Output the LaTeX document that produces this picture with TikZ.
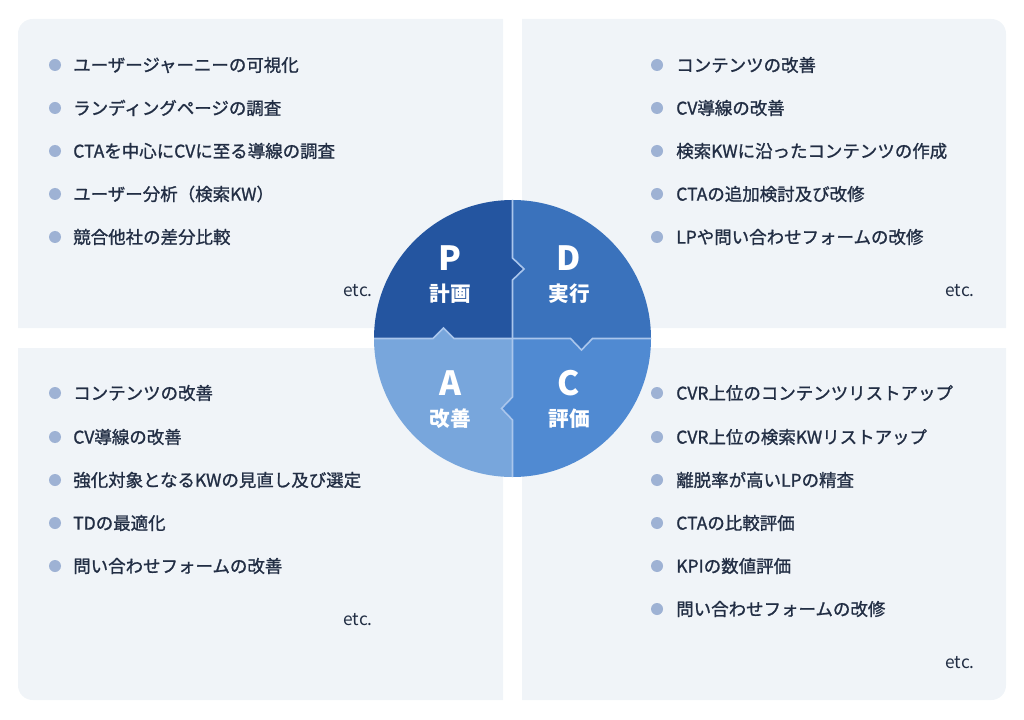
\documentclass[tikz,border=0pt]{standalone}
\usepackage{fontspec}
\setmainfont{Noto Sans CJK JP}
\newfontfamily\listfont{Noto Sans CJK JP}[FakeBold=1.2]
\usepackage{tikz}

\definecolor{panelbg}{RGB}{240,244,248}
\definecolor{navytext}{RGB}{34,46,68}
\definecolor{dotblue}{RGB}{158,178,212}
\definecolor{planblue}{RGB}{36,85,160}
\definecolor{doblue}{RGB}{58,114,188}
\definecolor{checkblue}{RGB}{80,138,210}
\definecolor{actblue}{RGB}{120,166,220}
\definecolor{seamblue}{RGB}{170,198,236}

\tikzset{
  listitem/.style={anchor=west, inner sep=0pt, text=navytext, font=\listfont\fontsize{13.1}{15}\selectfont},
  dotmark/.style={circle, fill=dotblue, inner sep=0pt, minimum size=9pt},
  etcnote/.style={anchor=east, inner sep=0pt, text=navytext, font=\fontsize{13}{15}\selectfont},
  bigletter/.style={text=white, inner sep=0pt, font=\bfseries\fontsize{25}{28}\selectfont},
  phaselabel/.style={text=white, inner sep=0pt, font=\bfseries\fontsize{15.5}{18}\selectfont},
  seam/.style={draw=seamblue, line width=1.2pt}
}

\begin{document}
\begin{tikzpicture}[x=0.75pt,y=0.75pt,yscale=-1,xscale=1]
    \useasboundingbox (0,0) rectangle (1024,720);

    %Shape: Panels
    \fill[panelbg] (18,328) [rounded corners=11pt] -- (18,19) [sharp corners] -- (503,19) -- (503,328) -- cycle;
    \fill[panelbg] (522,328) -- (522,19) [rounded corners=11pt] -- (1006,19) [sharp corners] -- (1006,328) -- cycle;
    \fill[panelbg] (503,348) -- (18,348) [rounded corners=11pt] -- (18,700) [sharp corners] -- (503,700) -- cycle;
    \fill[panelbg] (522,348) -- (1006,348) [rounded corners=11pt] -- (1006,700) [sharp corners] -- (522,700) -- cycle;

    %Shape: Quadrants
    \fill[planblue] (512.5,338.5) -- (512.5,280) -- (524,269) -- (512.5,258) -- (512.5,200) arc (270:180:138.5) -- (433,338.5) -- (443.5,328) -- (454,338.5) -- cycle;
    \fill[doblue] (512.5,338.5) -- (512.5,280) -- (524,269) -- (512.5,258) -- (512.5,200) arc (270:360:138.5) -- (592.5,338.5) -- (581.5,350) -- (570.5,338.5) -- cycle;
    \fill[checkblue] (512.5,338.5) -- (570.5,338.5) -- (581.5,350) -- (592.5,338.5) -- (651,338.5) arc (0:90:138.5) -- (512.5,420) -- (501.5,408.5) -- (512.5,397) -- cycle;
    \fill[actblue] (512.5,338.5) -- (512.5,397) -- (501.5,408.5) -- (512.5,420) -- (512.5,477) arc (90:180:138.5) -- (433,338.5) -- (443.5,328) -- (454,338.5) -- cycle;
    %Straight Lines: seams
    \draw[seam] (512.5,200) -- (512.5,258) -- (524,269) -- (512.5,280) -- (512.5,397) -- (501.5,408.5) -- (512.5,420) -- (512.5,477);
    \draw[seam] (374,338.5) -- (433,338.5) -- (443.5,328) -- (454,338.5) -- (570.5,338.5) -- (581.5,350) -- (592.5,338.5) -- (651,338.5);

    % Text Node
    \node[bigletter] (plet) at (450,258) {P};
    \node[phaselabel] (ptxt) at (450,294) {計画};
    \node[bigletter] (dlet) at (569,258) {D};
    \node[phaselabel] (dtxt) at (569,294) {実行};
    \node[bigletter] (alet) at (450,383) {A};
    \node[phaselabel] (atxt) at (450,419) {改善};
    \node[bigletter] (clet) at (569,383) {C};
    \node[phaselabel] (ctxt) at (569,419) {評価};

    % Text Node: plan list
    \node[dotmark] (pdot1) at (55,65) {};
    \node[listitem] (pitem1) at (73,65) {ユーザージャーニーの可視化};
    \node[dotmark] (pdot2) at (55,108) {};
    \node[listitem] (pitem2) at (73,108) {ランディングページの調査};
    \node[dotmark] (pdot3) at (55,151) {};
    \node[listitem] (pitem3) at (73,151) {CTAを中心にCVに至る導線の調査};
    \node[dotmark] (pdot4) at (55,194) {};
    \node[listitem] (pitem4) at (73,194) {ユーザー分析（検索KW）};
    \node[dotmark] (pdot5) at (55,237) {};
    \node[listitem] (pitem5) at (73,237) {競合他社の差分比較};
    \node[etcnote] (petc) at (373,291) {etc.};

    % Text Node: do list
    \node[dotmark] (ddot1) at (657,65) {};
    \node[listitem] (ditem1) at (676,65) {コンテンツの改善};
    \node[dotmark] (ddot2) at (657,108) {};
    \node[listitem] (ditem2) at (676,108) {CV導線の改善};
    \node[dotmark] (ddot3) at (657,151) {};
    \node[listitem] (ditem3) at (676,151) {検索KWに沿ったコンテンツの作成};
    \node[dotmark] (ddot4) at (657,194) {};
    \node[listitem] (ditem4) at (676,194) {CTAの追加検討及び改修};
    \node[dotmark] (ddot5) at (657,237) {};
    \node[listitem] (ditem5) at (676,237) {LPや問い合わせフォームの改修};
    \node[etcnote] (detc) at (975,291) {etc.};

    % Text Node: act list
    \node[dotmark] (adot1) at (55,393) {};
    \node[listitem] (aitem1) at (73,393) {コンテンツの改善};
    \node[dotmark] (adot2) at (55,437) {};
    \node[listitem] (aitem2) at (73,437) {CV導線の改善};
    \node[dotmark] (adot3) at (55,480) {};
    \node[listitem] (aitem3) at (73,480) {強化対象となるKWの見直し及び選定};
    \node[dotmark] (adot4) at (55,523) {};
    \node[listitem] (aitem4) at (73,523) {TDの最適化};
    \node[dotmark] (adot5) at (55,566) {};
    \node[listitem] (aitem5) at (73,566) {問い合わせフォームの改善};
    \node[etcnote] (aetc) at (373,620) {etc.};

    % Text Node: check list
    \node[dotmark] (cdot1) at (657,393) {};
    \node[listitem] (citem1) at (676,393) {CVR上位のコンテンツリストアップ};
    \node[dotmark] (cdot2) at (657,437) {};
    \node[listitem] (citem2) at (676,437) {CVR上位の検索KWリストアップ};
    \node[dotmark] (cdot3) at (657,480) {};
    \node[listitem] (citem3) at (676,480) {離脱率が高いLPの精査};
    \node[dotmark] (cdot4) at (657,523) {};
    \node[listitem] (citem4) at (676,523) {CTAの比較評価};
    \node[dotmark] (cdot5) at (657,566) {};
    \node[listitem] (citem5) at (676,566) {KPIの数値評価};
    \node[dotmark] (cdot6) at (657,609) {};
    \node[listitem] (citem6) at (676,609) {問い合わせフォームの改修};
    \node[etcnote] (cetc) at (975,663) {etc.};

\end{tikzpicture}
\end{document}
